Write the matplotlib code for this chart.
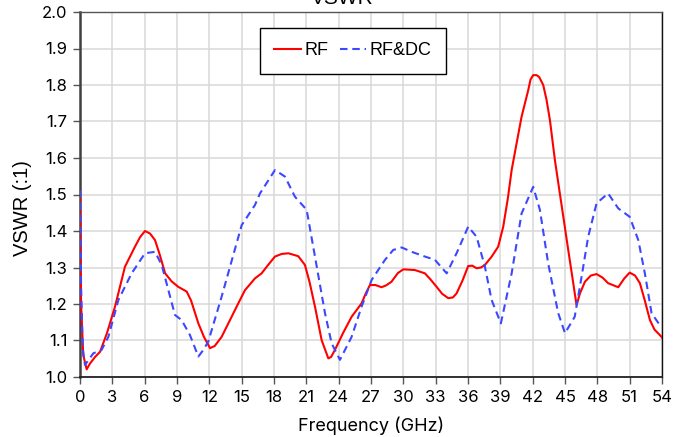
import matplotlib
matplotlib.use("Agg")
import matplotlib.pyplot as plt
from matplotlib.ticker import MultipleLocator, FormatStrFormatter

plt.rcParams['font.family'] = ['Inter', 'DejaVu Sans']

# RF series (frequency GHz, VSWR)
rf_freq = [0.0, 0.1, 0.3, 0.62, 0.93, 1.4, 1.86, 2.5, 3.25, 4.17, 5.1, 5.57, 6.03, 6.5,
           6.96, 7.4, 7.9, 8.5, 9.12, 9.9, 10.3, 10.98, 11.5, 12.06, 12.5, 13.14, 13.9,
           14.69, 15.31, 16.23, 16.85, 17.4, 18.09, 18.7, 19.33, 20.25, 20.87, 21.3, 21.8,
           22.42, 23.04, 23.3, 23.65, 24.4, 25.2, 26.13, 26.5, 26.9, 27.4, 27.98, 28.4,
           28.9, 29.5, 30.0, 31.08, 32.0, 32.5, 33.09, 33.6, 34.17, 34.6, 34.94, 35.5,
           36.02, 36.4, 36.8, 37.2, 37.57, 38.2, 38.8, 39.27, 39.7, 40.05, 40.35, 40.97,
           41.59, 41.8, 42.05, 42.36, 42.6, 42.98, 43.29, 43.6, 44.06, 44.5, 44.99, 45.3,
           45.7, 46.07, 46.4, 46.85, 47.4, 47.93, 48.5, 49.0, 49.94, 50.5, 51.0, 51.5,
           51.95, 52.4, 52.88, 53.3, 53.96, 54.0]
rf_vswr = [1.49, 1.20, 1.06, 1.021, 1.037, 1.055, 1.069, 1.12, 1.193, 1.302, 1.357, 1.383,
           1.40, 1.393, 1.375, 1.335, 1.284, 1.262, 1.247, 1.234, 1.21, 1.147, 1.11, 1.079,
           1.085, 1.11, 1.155, 1.202, 1.238, 1.27, 1.284, 1.305, 1.33, 1.337, 1.339, 1.331,
           1.307, 1.26, 1.193, 1.101, 1.051, 1.055, 1.074, 1.12, 1.165, 1.202, 1.228, 1.252,
           1.252, 1.246, 1.251, 1.261, 1.285, 1.295, 1.293, 1.284, 1.268, 1.247, 1.228,
           1.216, 1.218, 1.229, 1.265, 1.304, 1.305, 1.298, 1.30, 1.307, 1.33, 1.357, 1.412,
           1.49, 1.567, 1.615, 1.713, 1.786, 1.815, 1.827, 1.827, 1.822, 1.80, 1.759, 1.704,
           1.595, 1.507, 1.41, 1.348, 1.27, 1.197, 1.23, 1.261, 1.278, 1.282, 1.272, 1.257,
           1.246, 1.27, 1.286, 1.278, 1.257, 1.21, 1.156, 1.13, 1.11, 1.108]

# RF&DC series
dc_freq = [0.0, 0.1, 0.25, 0.46, 1.24, 2.0, 2.63, 3.56, 4.79, 6.03, 6.96, 7.58, 8.81, 9.43,
           10.2, 10.98, 11.44, 11.9, 13.14, 15.0, 16.23, 16.7, 18.09, 19.02, 19.94, 21.03,
           21.8, 22.73, 23.35, 24.12, 25.2, 26.13, 27.06, 28.3, 29.06, 29.84, 30.77, 32.0,
           32.93, 34.02, 34.94, 36.02, 36.8, 37.57, 38.19, 39.05, 40.05, 40.97, 42.05,
           42.67, 43.44, 44.37, 45.0, 45.9, 46.54, 47.15, 47.93, 49.0, 49.94, 51.0, 51.8,
           52.41, 53.03, 53.8, 54.0]
dc_vswr = [1.512, 1.25, 1.08, 1.033, 1.065, 1.074, 1.11, 1.211, 1.284, 1.339, 1.343, 1.307,
           1.17, 1.156, 1.115, 1.056, 1.074, 1.097, 1.22, 1.416, 1.471, 1.503, 1.567, 1.549,
           1.494, 1.458, 1.33, 1.175, 1.092, 1.047, 1.11, 1.193, 1.266, 1.321, 1.348, 1.355,
           1.343, 1.33, 1.321, 1.284, 1.339, 1.412, 1.384, 1.302, 1.211, 1.147, 1.284,
           1.448, 1.521, 1.458, 1.311, 1.175, 1.12, 1.165, 1.275, 1.384, 1.476, 1.503,
           1.462, 1.439, 1.375, 1.284, 1.175, 1.142, 1.138]

fig = plt.figure(figsize=(6.91, 4.37), dpi=100)
ax = fig.add_axes([80/691, 1-377/437, 582/691, 365/437])

ax.plot(rf_freq, rf_vswr, color='#ff0000', lw=1.5, label='RF', zorder=3)
ax.plot(dc_freq, dc_vswr, color='#3b48ff', lw=1.5, ls=(0, (3.6, 2.3)), label='RF&DC', zorder=3)

ax.set_xlim(0, 54)
ax.set_ylim(1.0, 2.0)
ax.xaxis.set_major_locator(MultipleLocator(3))
ax.yaxis.set_major_locator(MultipleLocator(0.1))
ax.yaxis.set_major_formatter(FormatStrFormatter('%.1f'))
ax.grid(True, color='#d9d9d9', lw=1.1)
ax.set_axisbelow(True)
ax.tick_params(axis='both', labelsize=12, length=5, width=1, color='#555555', pad=4)

ax.spines['left'].set_color('#404040')
ax.spines['left'].set_linewidth(1.8)
ax.spines['bottom'].set_color('#222222')
ax.spines['bottom'].set_linewidth(1.3)
ax.spines['top'].set_color('#555555')
ax.spines['top'].set_linewidth(1.0)
ax.spines['right'].set_color('#111111')
ax.spines['right'].set_linewidth(1.0)

fig.text(371/691, 1 - 431/437, 'Frequency (GHz)', ha='center', va='baseline', fontsize=13)
fig.text(22.5/691, 1 - 208/437, 'VSWR (:1)', ha='center', va='center', rotation=90,
         fontsize=14.5, family='Liberation Sans')

fig.text(342/691, 1 - 4/437, 'VSWR', ha='center', va='baseline', fontsize=15,
         family='Liberation Sans')

leg = ax.legend(loc='upper left', bbox_to_anchor=(260/691, 1 - 28/437),
                bbox_transform=fig.transFigure, ncol=2, frameon=True, fancybox=False,
                edgecolor='black', framealpha=1, borderaxespad=0, handlelength=1.45,
                handletextpad=0.2, columnspacing=0.65, borderpad=0.8,
                prop={'family': 'Liberation Sans', 'size': 13})
leg.get_frame().set_linewidth(1.0)

fig.savefig('out.png', dpi=100)
